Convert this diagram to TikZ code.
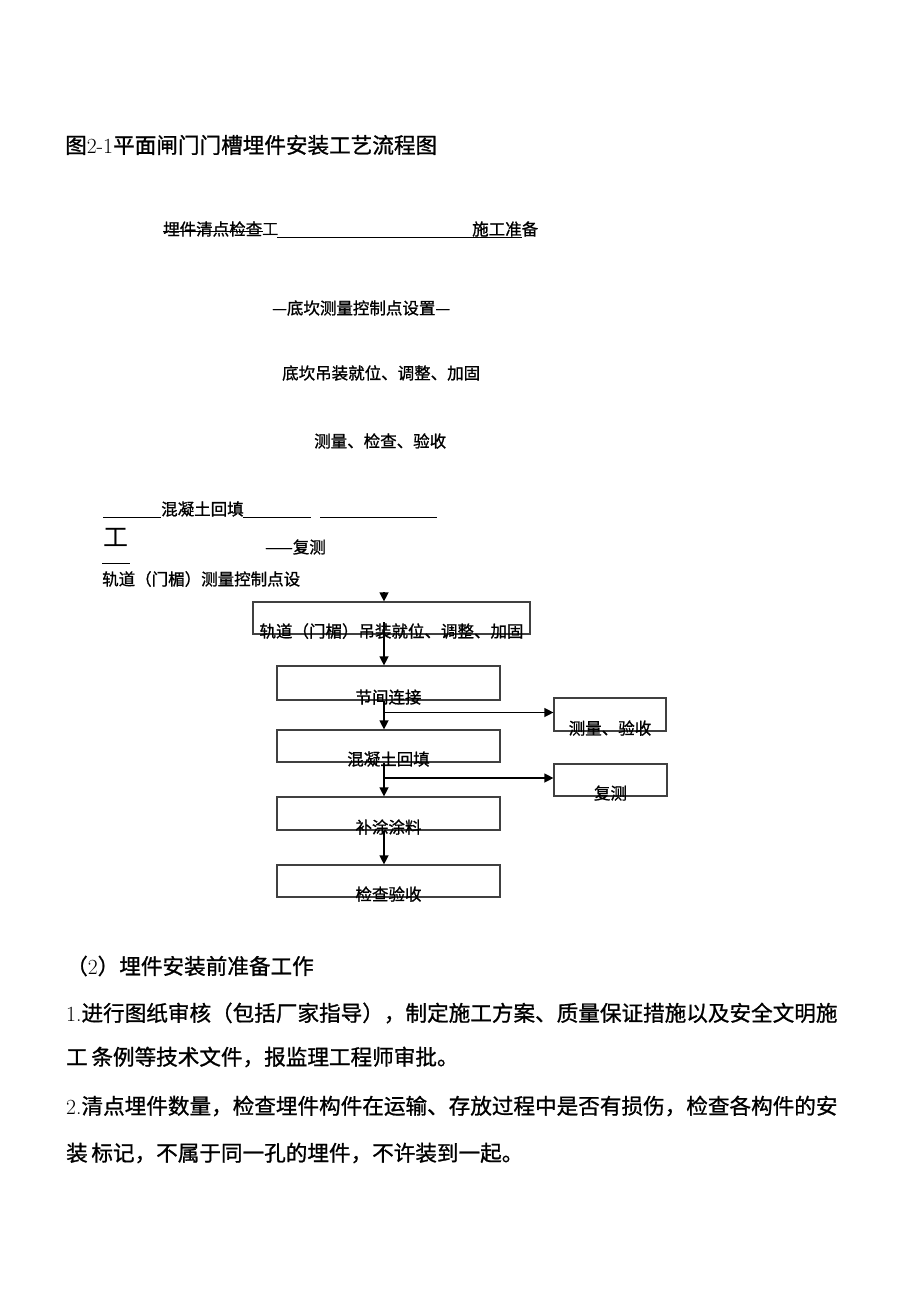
\documentclass[tikz,border=0pt]{standalone}
\usepackage{fontspec}
\newfontfamily\cjk{Noto Sans CJK SC}[FakeBold=1]
\newfontfamily\cjkthin{Noto Sans CJK SC}
\usetikzlibrary{arrows.meta}
\begin{document}
\begin{tikzpicture}[x=1pt,y=-1pt,
  txt/.style={inner sep=0pt, anchor=west, font=\cjk\fontsize{16.5}{16.5}\selectfont},
  lbl/.style={inner sep=0pt, font=\cjk\fontsize{16.5}{16.5}\selectfont},
  big/.style={inner sep=0pt, anchor=west, font=\cjk\fontsize{21.6}{21.6}\selectfont},
  box/.style={draw=black!75, line width=1.2pt, inner sep=0pt, rectangle},
  arr/.style={line width=1.3pt, -{Triangle[length=9pt,width=9pt]}},
  rule/.style={line width=0.9pt}]
\useasboundingbox[fill=white] (0,0) rectangle (920,1302);

% title
\node[big] (title) at (65,145) {图{\rmfamily 2-1}平面闸门门槽埋件安装工艺流程图};

% upper (text) part of the flow
\node[txt] (s1) at (163,229) {埋件清点检查{\cjkthin 工}};
\node[txt] (s2) at (472,229) {施工准备};
\coordinate (r1a) at (163,231); \coordinate (r1b) at (263,231);
\coordinate (r2a) at (277,237); \coordinate (r2b) at (522,237);
\draw[rule] (r1a) -- (r1b);
\draw[rule] (r2a) -- (r2b);

\node[txt] (s3) at (272,308) {—底坎测量控制点设置—};
\node[txt] (s4) at (282,373) {底坎吊装就位、调整、加固};
\node[txt] (s5) at (314,441) {测量、检查、验收};

\node[txt] (s6) at (161,509) {混凝土回填};
\coordinate (r3a) at (103,517); \coordinate (r3b) at (161,517);
\coordinate (r4a) at (243,517); \coordinate (r4b) at (311,517);
\coordinate (r5a) at (320,517); \coordinate (r5b) at (437,517);
\draw[rule] (r3a) -- (r3b);
\draw[rule] (r4a) -- (r4b);
\draw[rule] (r5a) -- (r5b);

\node[inner sep=0pt, font=\cjkthin\fontsize{25}{25}\selectfont] (gong) at (115.5,537) {工};
\node[txt] (s7) at (265,547) {——复测};
\coordinate (r6a) at (102,563); \coordinate (r6b) at (130,563);
\draw[rule] (r6a) -- (r6b);
\node[txt] (s8) at (102,579) {轨道（门楣）测量控制点设};

% boxed flow
\node[box, minimum width=277pt, minimum height=32pt] (b1) at (391.5,618) {};
\node[box, minimum width=223pt, minimum height=34pt] (b2) at (388.5,683) {};
\node[box, minimum width=223pt, minimum height=32pt] (b3) at (388.5,746) {};
\node[box, minimum width=223pt, minimum height=33pt] (b5) at (388.5,813.5) {};
\node[box, minimum width=223pt, minimum height=32pt] (b6) at (388.5,881) {};
\node[box, minimum width=112pt, minimum height=33pt] (b4) at (610,714.5) {};
\node[box, minimum width=113pt, minimum height=32pt] (b7) at (610.5,780) {};

\node[lbl] (t1) at ([yshift=3.5pt]b1.south) {轨道（门楣）吊装就位、调整、加固};
\node[lbl] (t2) at ([yshift=3.5pt]b2.south) {节间连接};
\node[lbl] (t3) at ([yshift=3.5pt]b3.south) {混凝土回填};
\node[lbl] (t5) at ([yshift=3.5pt]b5.south) {补涂涂料};
\node[lbl] (t6) at ([yshift=3.5pt]b6.south) {检查验收};
\node[lbl] (t4) at ([yshift=3.5pt]b4.south) {测量、验收};
\node[lbl] (t7) at ([yshift=3.5pt]b7.south) {复测};

\coordinate (ax) at (384,0);
\coordinate (top) at (384,592);
\draw[arr] (top) -- (ax |- b1.north);
\draw[arr] ([yshift=-4pt]ax |- b1.center) -- (ax |- b2.north);
\draw[arr] (ax |- b2.south) -- (ax |- b3.north);
\draw[arr] (ax |- b3.south) -- (ax |- b5.north);
\draw[arr] (ax |- b5.south) -- (ax |- b6.north);
\draw[arr] ([yshift=2pt]ax |- b4.west) -- ([yshift=2pt]b4.west);
\draw[arr] ([yshift=2pt]ax |- b7.west) -- ([yshift=2pt]b7.west);

% body text
\node[big] (p0) at (66,966) {（{\rmfamily 2}）埋件安装前准备工作};
\node[big] (p1) at (66,1013) {{\rmfamily 1.}进行图纸审核（包括厂家指导），制定施工方案、质量保证措施以及安全文明施};
\node[big] (p2) at (66,1057) {工\,条例等技术文件，报监理工程师审批。};
\node[big] (p3) at (66,1106) {{\rmfamily 2.}清点埋件数量，检查埋件构件在运输、存放过程中是否有损伤，检查各构件的安};
\node[big] (p4) at (66,1153) {装\,标记，不属于同一孔的埋件，不许装到一起。};
\end{tikzpicture}
\end{document}
